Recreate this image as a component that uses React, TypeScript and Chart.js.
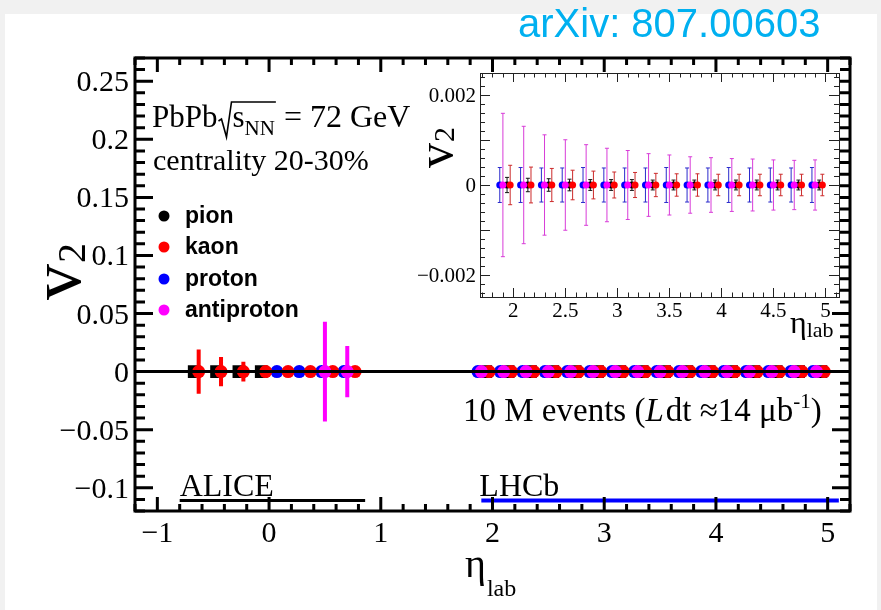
import React, { useEffect, useRef } from 'react';
import { Chart, registerables } from 'chart.js';
Chart.register(...registerables);

const W = 881;
const H = 610;
const SERIF = '"Liberation Serif", "Times New Roman", serif';
const SANS = '"Liberation Sans", Arial, sans-serif';

// ---------------- DATA ----------------
// main axes
const mainXRange = [-1.2, 5.2];
const mainYRange = [-0.12, 0.27];
const mainXTicks = [-1, 0, 1, 2, 3, 4, 5];
const mainXTickLabels = ['\u22121', '0', '1', '2', '3', '4', '5'];
const mainYTicks = [-0.1, -0.05, 0, 0.05, 0.1, 0.15, 0.2, 0.25];
const mainYTickLabels = ['\u22120.1', '\u22120.05', '0', '0.05', '0.1', '0.15', '0.2', '0.25'];

// inset axes
const insetXRange = [1.68, 5.13];
const insetYRange = [-0.0025, 0.0025];
const insetXTicks = [2, 2.5, 3, 3.5, 4, 4.5, 5];
const insetXTickLabels = ['2', '2.5', '3', '3.5', '4', '4.5', '5'];
const insetYTicks = [-0.002, -0.001, 0, 0.001, 0.002];
const insetYTickLabels = ['\u22120.002', '', '0', '', '0.002'];

// detector acceptance bars
const aliceRange = [-0.8, 0.86];
const lhcbRange = [1.9, 5.1];
const rangeLineV2 = -0.111;

// ALICE points
const alicePionEta = [-0.67, -0.47, -0.27, -0.07];
const alicePionV2 = [0, 0, 0, 0];
const alicePionErr = [0.001, 0.001, 0.001, 0.001];

const aliceKaonEta = [-0.63, -0.43, -0.23, -0.03, 0.17, 0.37, 0.57, 0.77];
const aliceKaonV2 = [0, 0, 0, 0, 0, 0, 0, 0];
const aliceKaonErr = [0.019, 0.0125, 0.0085, 0.004, 0.002, 0.0015, 0.0015, 0.0015];

const aliceProtonEta = [0.07, 0.27, 0.47, 0.67];
const aliceProtonV2 = [0, 0, 0, 0];
const aliceProtonErr = [0.003, 0.003, 0.003, 0.003];

const aliceAntiprotonEta = [0.5, 0.7];
const aliceAntiprotonV2 = [0, 0];
const aliceAntiprotonErr = [0.043, 0.022];

// LHCb points
const lhcbProtonEta = [1.87, 2.07, 2.27, 2.47, 2.67, 2.87, 3.07, 3.27, 3.47, 3.67, 3.87, 4.07, 4.27, 4.47, 4.67, 4.87];
const lhcbProtonV2 = [0, 0, 0, 0, 0, 0, 0, 0, 0, 0, 0, 0, 0, 0, 0, 0];
const lhcbProtonErr = [0.00039, 0.00039, 0.00038, 0.00038, 0.00039, 0.00038, 0.00038, 0.00038, 0.00039, 0.00038, 0.00038, 0.00039, 0.00038, 0.00038, 0.00038, 0.00039];

const lhcbAntiprotonEta = [1.9, 2.1, 2.3, 2.5, 2.7, 2.9, 3.1, 3.3, 3.5, 3.7, 3.9, 4.1, 4.3, 4.5, 4.7, 4.9];
const lhcbAntiprotonV2 = [0, 0, 0, 0, 0, 0, 0, 0, 0, 0, 0, 0, 0, 0, 0, 0];
const lhcbAntiprotonErr = [0.0016, 0.00131, 0.00112, 0.00101, 0.0009, 0.00082, 0.00077, 0.0007, 0.00067, 0.00063, 0.00061, 0.00059, 0.00058, 0.00056, 0.00055, 0.00056];

const lhcbPionEta = [1.94, 2.14, 2.34, 2.54, 2.74, 2.94, 3.14, 3.34, 3.54, 3.74, 3.94, 4.14, 4.34, 4.54, 4.74, 4.94];
const lhcbPionV2 = [0, 0, 0, 0, 0, 0, 0, 0, 0, 0, 0, 0, 0, 0, 0, 0];
const lhcbPionErr = [0.00017, 0.00015, 0.00014, 0.00013, 0.00012, 0.00012, 0.00012, 0.00011, 0.00011, 0.00011, 0.00011, 0.00011, 0.00011, 0.00011, 0.00011, 0.00011];

const lhcbKaonEta = [1.97, 2.17, 2.37, 2.57, 2.77, 2.97, 3.17, 3.37, 3.57, 3.77, 3.97, 4.17, 4.37, 4.57, 4.77, 4.97];
const lhcbKaonV2 = [0, 0, 0, 0, 0, 0, 0, 0, 0, 0, 0, 0, 0, 0, 0, 0];
const lhcbKaonErr = [0.00044, 0.0004, 0.00037, 0.00033, 0.00031, 0.00029, 0.00028, 0.00026, 0.00025, 0.00025, 0.00024, 0.00024, 0.00024, 0.00024, 0.00024, 0.00024];

const legendLabels = ['pion', 'kaon', 'proton', 'antiproton'];
const legendColors = ['#000000', '#ff0000', '#0000ff', '#ff00ff'];

// ---------------- HELPERS ----------------
const pts = (xs: number[], ys: number[]) => xs.map((x, i) => ({ x, y: ys[i] }));

function eachTick(majors: number[], minorStep: number, min: number, max: number, cb: (v: number, major: boolean) => void) {
  const n0 = Math.ceil(min / minorStep - 1e-6);
  const n1 = Math.floor(max / minorStep + 1e-6);
  for (let k = n0; k <= n1; k++) {
    const v = k * minorStep;
    const major = majors.some((m) => Math.abs(m - v) < minorStep * 0.01);
    cb(v, major);
  }
}

const errorBarPlugin = {
  id: 'errbars',
  beforeDatasetDraw(chart: any, args: any) {
    const ds = chart.data.datasets[args.index];
    if (!ds.errors) return;
    const meta = chart.getDatasetMeta(args.index);
    const ys = chart.scales.y;
    const ctx = chart.ctx;
    ctx.save();
    ctx.beginPath();
    ctx.rect(chart.chartArea.left, chart.chartArea.top, chart.chartArea.right - chart.chartArea.left, chart.chartArea.bottom - chart.chartArea.top);
    ctx.clip();
    ctx.strokeStyle = ds.errColor;
    ctx.lineWidth = ds.errWidth;
    ctx.beginPath();
    meta.data.forEach((el: any, i: number) => {
      const v = ds.data[i].y;
      const e = ds.errors[i];
      const y1 = ys.getPixelForValue(v + e);
      const y2 = ys.getPixelForValue(v - e);
      ctx.moveTo(el.x, y1);
      ctx.lineTo(el.x, y2);
      if (ds.errCap) {
        ctx.moveTo(el.x - ds.errCap, y1);
        ctx.lineTo(el.x + ds.errCap, y1);
        ctx.moveTo(el.x - ds.errCap, y2);
        ctx.lineTo(el.x + ds.errCap, y2);
      }
    });
    ctx.stroke();
    ctx.restore();
  },
};

type Part = { t: string; f: string; dx?: number; dy?: number };
function rich(ctx: CanvasRenderingContext2D, x: number, y: number, parts: Part[]) {
  let cx = x;
  for (const p of parts) {
    ctx.font = p.f;
    cx += p.dx || 0;
    ctx.fillText(p.t, cx, y + (p.dy || 0));
    cx += ctx.measureText(p.t).width;
  }
  return cx;
}

// ---------------- MAIN CHART ----------------
const mainBgPlugin = {
  id: 'mainBg',
  beforeDraw(chart: any) {
    const ctx = chart.ctx;
    ctx.save();
    ctx.fillStyle = '#f1f1f1';
    ctx.fillRect(0, 0, W, H);
    ctx.fillStyle = '#ffffff';
    ctx.fillRect(5, 14, 872, H - 14);
    ctx.fillStyle = '#00b0f0';
    ctx.font = `40px ${SANS}`;
    ctx.textAlign = 'left';
    ctx.textBaseline = 'alphabetic';
    ctx.fillText('arXiv: 807.00603', 518, 37);
    ctx.restore();
  },
};

const mainOverlayPlugin = {
  id: 'mainOverlay',
  afterDatasetsDraw(chart: any) {
    const ctx = chart.ctx;
    const { left, right } = chart.chartArea;
    const y0 = chart.scales.y.getPixelForValue(0);
    ctx.save();
    ctx.strokeStyle = '#000';
    ctx.lineWidth = 3;
    ctx.beginPath();
    ctx.moveTo(left, y0);
    ctx.lineTo(right, y0);
    ctx.stroke();
    ctx.restore();
  },
  afterDraw(chart: any) {
    const ctx: CanvasRenderingContext2D = chart.ctx;
    const { left, right, top, bottom } = chart.chartArea;
    const xs = chart.scales.x;
    const ys = chart.scales.y;
    ctx.save();
    ctx.strokeStyle = '#000';
    ctx.fillStyle = '#000';
    ctx.lineWidth = 3;
    ctx.lineCap = 'butt';
    ctx.beginPath();
    eachTick(mainXTicks, 0.2, xs.min, xs.max, (v, major) => {
      const px = xs.getPixelForValue(v);
      const len = major ? 14 : 7;
      ctx.moveTo(px, bottom);
      ctx.lineTo(px, bottom - len);
      ctx.moveTo(px, top);
      ctx.lineTo(px, top + len);
    });
    eachTick(mainYTicks, 0.01, ys.min, ys.max, (v, major) => {
      const py = ys.getPixelForValue(v);
      const len = major ? 18 : 10;
      ctx.moveTo(left, py);
      ctx.lineTo(left + len, py);
      ctx.moveTo(right, py);
      ctx.lineTo(right - len, py);
    });
    ctx.stroke();
    ctx.strokeRect(left, top, right - left, bottom - top);

    // tick labels
    ctx.font = `30px ${SERIF}`;
    ctx.textAlign = 'center';
    mainXTicks.forEach((v, i) => {
      ctx.fillText(mainXTickLabels[i], xs.getPixelForValue(v), 542);
    });
    ctx.textAlign = 'right';
    mainYTicks.forEach((v, i) => {
      ctx.fillText(mainYTickLabels[i], 129, ys.getPixelForValue(v) + 10);
    });

    // axis titles
    ctx.textAlign = 'left';
    rich(ctx, 465, 577, [
      { t: '\u03b7', f: `40px ${SERIF}` },
      { t: 'lab', f: `24px ${SERIF}`, dy: 19, dx: 1 },
    ]);
    ctx.save();
    ctx.translate(80, 300);
    ctx.rotate(-Math.PI / 2);
    rich(ctx, 0, 0, [
      { t: 'v', f: `72px ${SERIF}` },
      { t: '2', f: `40px ${SERIF}`, dy: 5, dx: 1 },
    ]);
    ctx.restore();

    // annotations
    const F = `31px ${SERIF}`;
    ctx.font = F;
    ctx.fillText('PbPb', 152, 127);
    const r0 = 152 + ctx.measureText('PbPb').width + 1;
    let sx = r0 + 14;
    ctx.fillText('s', sx, 127);
    sx += ctx.measureText('s').width;
    ctx.font = `21px ${SERIF}`;
    ctx.fillText('NN', sx, 135);
    sx += ctx.measureText('NN').width;
    ctx.lineWidth = 1.6;
    ctx.beginPath();
    ctx.moveTo(r0, 121);
    ctx.lineTo(r0 + 3, 119);
    ctx.lineTo(r0 + 8, 137);
    ctx.lineTo(r0 + 13, 102);
    ctx.lineTo(sx + 1, 102);
    ctx.stroke();
    ctx.font = `32px ${SERIF}`;
    ctx.fillText(' = 72 GeV', sx + 1, 127);

    ctx.font = `30px ${SERIF}`;
    ctx.fillText('centrality 20-30%', 153, 170);

    const F33 = `33px ${SERIF}`;
    rich(ctx, 463, 421, [
      { t: '10 M events (', f: F33 },
      { t: 'L', f: `italic 33px ${SERIF}` },
      { t: 'dt \u224814 \u03bcb', f: F33, dx: 2 },
      { t: '-1', f: `21px ${SERIF}`, dy: -13 },
      { t: ')', f: F33 },
    ]);

    ctx.font = `32px ${SERIF}`;
    ctx.fillText('ALICE', xs.getPixelForValue(aliceRange[0]), 496);
    ctx.fillText('LHCb', xs.getPixelForValue(lhcbRange[0]) - 2, 496);

    // legend
    legendLabels.forEach((lab, i) => {
      const cy = [216, 247, 279, 310][i];
      ctx.fillStyle = legendColors[i];
      ctx.beginPath();
      ctx.arc(164, cy, 5.5, 0, Math.PI * 2);
      ctx.fill();
      ctx.fillStyle = '#000';
      ctx.font = `bold 23px ${SANS}`;
      ctx.fillText(lab, 185, cy + 7);
    });
    ctx.restore();
  },
};

function speciesDatasets(size: 'main' | 'inset') {
  const big = size === 'main';
  const r = big ? 6.5 : 3.5;
  const ew = big ? 4 : 1;
  const cap = big ? 0 : 2;
  const withAlice = (a: number[], b: number[]) => (big ? a.concat(b) : b);
  const errColors = big
    ? ['#ff00ff', '#ff0000', '#0000ff', '#000000']
    : ['#d83cd8', '#cc2a2a', '#2a2acc', '#111111'];
  return [
    {
      label: 'antiproton',
      data: pts(withAlice(aliceAntiprotonEta, lhcbAntiprotonEta), withAlice(aliceAntiprotonV2, lhcbAntiprotonV2)),
      errors: withAlice(aliceAntiprotonErr, lhcbAntiprotonErr),
      errColor: errColors[0], errWidth: ew, errCap: cap,
      pointStyle: 'circle', pointRadius: r, backgroundColor: '#ff00ff', borderWidth: 0,
    },
    {
      label: 'kaon',
      data: pts(withAlice(aliceKaonEta, lhcbKaonEta), withAlice(aliceKaonV2, lhcbKaonV2)),
      errors: withAlice(aliceKaonErr, lhcbKaonErr),
      errColor: errColors[1], errWidth: ew, errCap: cap,
      pointStyle: 'circle', pointRadius: r, backgroundColor: '#ff0000', borderWidth: 0,
    },
    {
      label: 'proton',
      data: pts(withAlice(aliceProtonEta, lhcbProtonEta), withAlice(aliceProtonV2, lhcbProtonV2)),
      errors: withAlice(aliceProtonErr, lhcbProtonErr),
      errColor: errColors[2], errWidth: ew, errCap: cap,
      pointStyle: 'circle', pointRadius: r, backgroundColor: '#0000ff', borderWidth: 0,
    },
    {
      label: 'pion',
      data: pts(withAlice(alicePionEta, lhcbPionEta), withAlice(alicePionV2, lhcbPionV2)),
      errors: withAlice(alicePionErr, lhcbPionErr),
      errColor: errColors[3], errWidth: ew, errCap: cap,
      pointStyle: big ? 'rect' : 'circle', pointRadius: big ? 9 : r, backgroundColor: '#000000', borderWidth: 0,
    },
  ];
}

function mainConfig(): any {
  return {
    type: 'scatter',
    data: {
      datasets: [
        ...speciesDatasets('main'),
        {
          label: 'ALICE',
          type: 'line',
          data: pts(aliceRange, [rangeLineV2, rangeLineV2]),
          borderColor: '#000000', borderWidth: 3, pointRadius: 0, showLine: true, borderCapStyle: 'butt',
        },
        {
          label: 'LHCb',
          type: 'line',
          data: pts(lhcbRange, [rangeLineV2, rangeLineV2]),
          borderColor: '#0000ff', borderWidth: 4, pointRadius: 0, showLine: true, borderCapStyle: 'butt',
        },
      ],
    },
    options: {
      animation: false,
      responsive: false,
      devicePixelRatio: 1,
      events: [],
      layout: { padding: { left: 135, right: 31, top: 58, bottom: 99 } },
      scales: {
        x: { type: 'linear', min: mainXRange[0], max: mainXRange[1], display: false },
        y: { type: 'linear', min: mainYRange[0], max: mainYRange[1], display: false },
      },
      plugins: { legend: { display: false }, tooltip: { enabled: false } },
    },
    plugins: [mainBgPlugin, errorBarPlugin, mainOverlayPlugin],
  };
}

// ---------------- INSET CHART ----------------
const insetPlugin = {
  id: 'insetOverlay',
  beforeDraw(chart: any) {
    const ctx = chart.ctx;
    const { left, right, top, bottom } = chart.chartArea;
    ctx.save();
    ctx.fillStyle = '#ffffff';
    ctx.fillRect(left, top, right - left, bottom - top);
    ctx.restore();
  },
  afterDraw(chart: any) {
    const ctx: CanvasRenderingContext2D = chart.ctx;
    const { left, right, top, bottom } = chart.chartArea;
    const xs = chart.scales.x;
    const ys = chart.scales.y;
    ctx.save();
    ctx.strokeStyle = '#222';
    ctx.fillStyle = '#000';
    ctx.lineWidth = 1;
    ctx.beginPath();
    eachTick(insetXTicks, 0.1, xs.min, xs.max, (v, major) => {
      const px = Math.round(xs.getPixelForValue(v)) + 0.5;
      const len = major ? 9 : 4.5;
      ctx.moveTo(px, bottom);
      ctx.lineTo(px, bottom - len);
      ctx.moveTo(px, top);
      ctx.lineTo(px, top + len);
    });
    eachTick(insetYTicks, 0.0002, ys.min, ys.max, (v, major) => {
      const py = Math.round(ys.getPixelForValue(v)) + 0.5;
      const len = major ? 10 : 5;
      ctx.moveTo(left, py);
      ctx.lineTo(left + len, py);
      ctx.moveTo(right, py);
      ctx.lineTo(right - len, py);
    });
    ctx.stroke();
    ctx.strokeRect(Math.round(left) + 0.5, Math.round(top) + 0.5, Math.round(right - left), Math.round(bottom - top));

    ctx.font = `21px ${SERIF}`;
    ctx.textAlign = 'center';
    insetXTicks.forEach((v, i) => ctx.fillText(insetXTickLabels[i], xs.getPixelForValue(v), 317));
    ctx.textAlign = 'right';
    insetYTicks.forEach((v, i) => {
      if (insetYTickLabels[i]) ctx.fillText(insetYTickLabels[i], 476, ys.getPixelForValue(v) + 7);
    });
    ctx.textAlign = 'left';
    rich(ctx, 790, 333, [
      { t: '\u03b7', f: `32px ${SERIF}` },
      { t: 'lab', f: `22px ${SERIF}`, dy: 4 },
    ]);
    ctx.save();
    ctx.translate(452, 168);
    ctx.rotate(-Math.PI / 2);
    rich(ctx, 0, 0, [
      { t: 'v', f: `50px ${SERIF}` },
      { t: '2', f: `30px ${SERIF}`, dy: 2, dx: 1 },
    ]);
    ctx.restore();
    ctx.restore();
  },
};

function insetConfig(): any {
  return {
    type: 'scatter',
    data: { datasets: speciesDatasets('inset') },
    options: {
      animation: false,
      responsive: false,
      devicePixelRatio: 1,
      events: [],
      layout: { padding: { left: 480, right: 42, top: 73, bottom: 313 } },
      scales: {
        x: { type: 'linear', min: insetXRange[0], max: insetXRange[1], display: false },
        y: { type: 'linear', min: insetYRange[0], max: insetYRange[1], display: false },
      },
      plugins: { legend: { display: false }, tooltip: { enabled: false } },
    },
    plugins: [insetPlugin, errorBarPlugin],
  };
}

export default function App() {
  const mainRef = useRef<HTMLCanvasElement>(null);
  const insetRef = useRef<HTMLCanvasElement>(null);
  useEffect(() => {
    const c1 = new Chart(mainRef.current as HTMLCanvasElement, mainConfig());
    const c2 = new Chart(insetRef.current as HTMLCanvasElement, insetConfig());
    return () => {
      c1.destroy();
      c2.destroy();
    };
  }, []);
  return (
    <div style={{ position: 'fixed', left: 0, top: 0, width: W, height: H, background: '#f1f1f1', overflow: 'hidden' }}>
      <canvas ref={mainRef} width={W} height={H} style={{ position: 'absolute', left: 0, top: 0, width: W, height: H }} />
      <canvas ref={insetRef} width={W} height={H} style={{ position: 'absolute', left: 0, top: 0, width: W, height: H }} />
    </div>
  );
}
